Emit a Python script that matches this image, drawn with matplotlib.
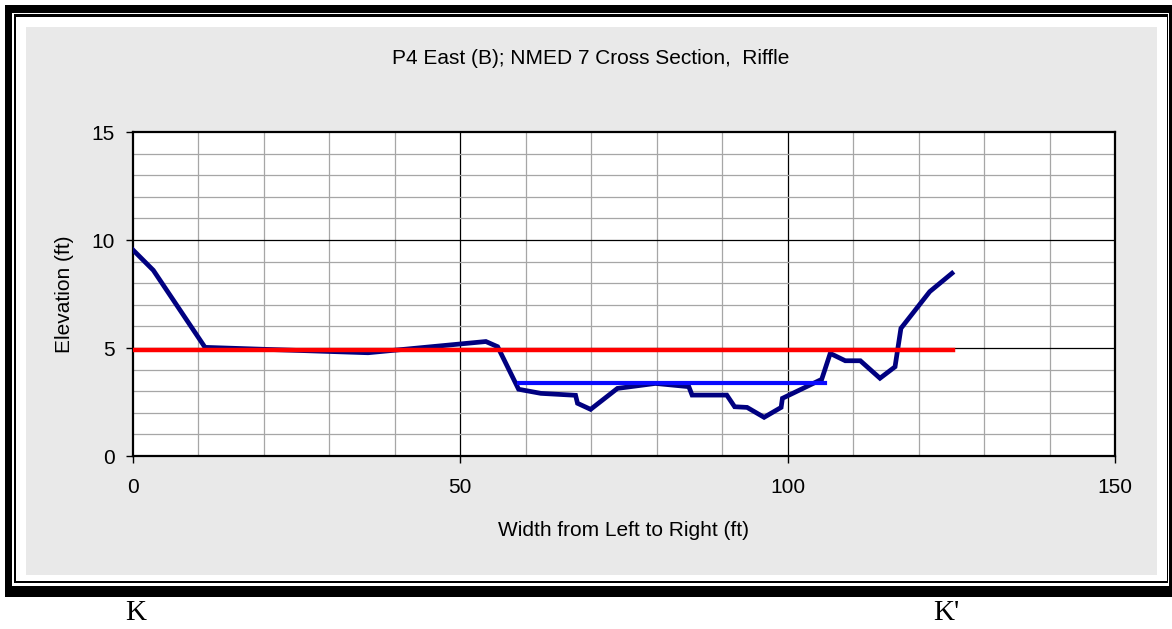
import matplotlib.pyplot as plt
from matplotlib.patches import Rectangle

# ground profile (station ft, elevation ft)
station = [0, 3.1, 11.0, 35.9, 53.9, 55.7, 58.9, 62.3, 67.6, 67.9, 69.9, 74.0,
           79.8, 84.9, 85.4, 90.7, 91.9, 93.8, 96.4, 99.0, 99.2, 105.2, 106.5,
           108.8, 111.1, 114.1, 116.4, 117.3, 121.7, 125.1]
elevation = [9.54, 8.6, 5.03, 4.78, 5.3, 5.06, 3.09, 2.90, 2.81, 2.44, 2.16, 3.13,
             3.36, 3.21, 2.82, 2.82, 2.28, 2.25, 1.79, 2.25, 2.67, 3.55, 4.75,
             4.41, 4.41, 3.6, 4.13, 5.91, 7.61, 8.46]

# bankfull line and water surface
bankfull_x = [0, 125.3]
bankfull_y = [4.9, 4.9]
water_x = [58.9, 105.7]
water_y = [3.36, 3.36]

W, H = 1172, 629
fig = plt.figure(figsize=(W / 100, H / 100), dpi=100)
fig.patch.set_facecolor("white")


def box(x0, y0, x1, y1, color):
    # pixel coords from top-left -> figure fraction
    fig.add_artist(Rectangle((x0 / W, 1 - y1 / H), (x1 - x0) / W, (y1 - y0) / H,
                             transform=fig.transFigure, facecolor=color,
                             edgecolor="none", zorder=-10))


# double frame + gray chart area
box(5, 5, 1185, 597, "black")
box(12, 13, 1169, 586, "white")
box(13.5, 14, 1168.3, 583, "black")
box(16, 16.5, 1166.7, 581, "white")
box(26, 27, 1157, 575, "#e9e9e9")

ax = fig.add_axes([133 / W, 1 - 456 / H, (1115 - 133) / W, (456 - 132) / H])
ax.set_facecolor("white")

# grid: minor every 10 ft / 1 ft, major every 50 ft / 5 ft
for gx in range(10, 150, 10):
    ax.axvline(gx, color="black" if gx % 50 == 0 else "#a6a6a6", lw=0.9, zorder=1)
for gy in range(1, 15):
    ax.axhline(gy, color="black" if gy % 5 == 0 else "#a6a6a6", lw=0.9, zorder=1)

ax.plot(station, elevation, color="#000080", lw=3.4, solid_joinstyle="miter", zorder=3)
ax.plot(water_x, water_y, color="#0a0aff", lw=3.0, zorder=4)
ax.plot(bankfull_x, bankfull_y, color="#ff0000", lw=3.2, zorder=5)

ax.set_xlim(0, 150)
ax.set_ylim(0, 15)
ax.set_xticks([0, 50, 100, 150])
ax.set_yticks([0, 5, 10, 15])
for s in ax.spines.values():
    s.set_linewidth(1.6)
    s.set_color("black")
ax.tick_params(direction="out", length=5, width=1, labelsize=15, pad=8)
ax.tick_params(axis="x", pad=11)

font = "Liberation Sans"
for lab in ax.get_xticklabels() + ax.get_yticklabels():
    lab.set_fontfamily(font)

fig.text(591 / W, 1 - 58 / H, "P4 East (B); NMED 7 Cross Section,  Riffle",
         ha="center", va="center", fontsize=15, family=font)
fig.text(623 / W, 1 - 530 / H, "Width from Left to Right (ft)",
         ha="center", va="center", fontsize=15, family=font)
fig.text(65 / W, 1 - 294 / H, "Elevation (ft)", rotation=90,
         ha="center", va="center", fontsize=15, family=font)

fig.text(136 / W, 1 - 613 / H, "K", ha="center", va="center",
         fontsize=21, family="Liberation Serif")
fig.text(946 / W, 1 - 613 / H, "K'", ha="center", va="center",
         fontsize=21, family="Liberation Serif")

fig.savefig("out.png", dpi=100)
